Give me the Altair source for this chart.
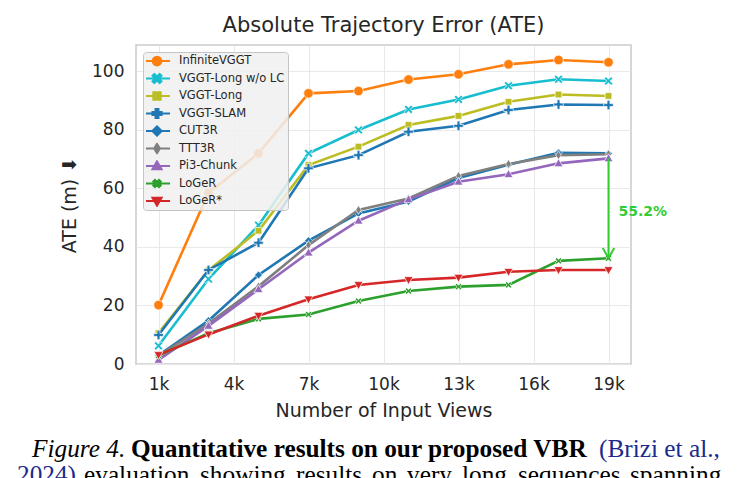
import math

import altair as alt
import pandas as pd

# ---------------------------------------------------------------- data
views_k = [1, 3, 5, 7, 9, 11, 13, 15, 17, 19]  # number of input views, thousands

infinite_vggt = [20.1, 58.4, 71.9, 92.4, 93.2, 97.1, 98.9, 102.3, 103.8, 103.0]
vggt_long_wo_lc = [6.2, 29.0, 47.4, 71.9, 79.9, 86.9, 90.3, 95.0, 97.2, 96.6]
vggt_long = [10.6, 32.0, 45.5, 67.9, 74.2, 81.6, 84.7, 89.5, 92.0, 91.5]
vggt_slam = [9.9, 32.1, 41.4, 66.8, 71.3, 79.3, 81.3, 86.7, 88.6, 88.4]
cut3r = [3.0, 14.8, 30.4, 42.1, 51.4, 55.5, 63.5, 68.0, 72.1, 71.9]
ttt3r = [2.8, 13.8, 26.5, 40.6, 52.6, 56.5, 64.2, 68.3, 71.3, 71.6]
pi3_chunk = [1.4, 13.0, 25.5, 38.0, 48.9, 56.2, 62.2, 64.8, 68.5, 70.2]
loger = [2.9, 10.5, 15.4, 16.9, 21.5, 24.9, 26.4, 27.0, 35.2, 36.1]
loger_star = [3.1, 10.1, 16.5, 22.1, 27.0, 28.7, 29.5, 31.5, 32.1, 32.1]

methods = ["InfiniteVGGT", "VGGT-Long w/o LC", "VGGT-Long", "VGGT-SLAM", "CUT3R",
           "TTT3R", "Pi3-Chunk", "LoGeR", "LoGeR*"]
series = [infinite_vggt, vggt_long_wo_lc, vggt_long, vggt_slam, cut3r,
          ttt3r, pi3_chunk, loger, loger_star]
colors = ["#ff7f0e", "#17becf", "#bcbd22", "#1f77b4", "#1f77b4",
          "#7f7f7f", "#9467bd", "#2ca02c", "#d62728"]
markers = ["circle", "x", "square", "plus", "diamond",
           "thin_diamond", "triangle_up", "x_small", "triangle_down"]
marker_sizes = [92, 80, 70, 92, 62, 80, 84, 44, 84]

x_ticks = [1, 4, 7, 10, 13, 16, 19]
y_ticks = [0, 20, 40, 60, 80, 100]

# ---------------------------------------------------------------- marker geometry
def rot(pts, deg):
    a = math.radians(deg)
    c, s = math.cos(a), math.sin(a)
    return [(x * c - y * s, x * s + y * c) for x, y in pts]


def plus_pts(w, r=1.0):
    return [(-w, -r), (w, -r), (w, -w), (r, -w), (r, w), (w, w), (w, r), (-w, r),
            (-w, w), (-r, w), (-r, -w), (-w, -w)]


def poly(pts, k=1.0):
    return "M" + "L".join(f"{x * k:.3f},{y * k:.3f}" for x, y in pts) + "Z"


def circle(r):
    return (f"M{-r:.3f},0A{r:.3f},{r:.3f} 0 1,0 {r:.3f},0"
            f"A{r:.3f},{r:.3f} 0 1,0 {-r:.3f},0Z")


marker_pts = {
    "square": [(-0.8, -0.8), (0.8, -0.8), (0.8, 0.8), (-0.8, 0.8)],
    "plus": plus_pts(0.3),
    "x": rot(plus_pts(0.27, 1.1), 45),
    "x_small": rot(plus_pts(0.3, 1.1), 45),
    "diamond": [(0, -1), (1, 0), (0, 1), (-1, 0)],
    "thin_diamond": [(0, -1), (0.62, 0), (0, 1), (-0.62, 0)],
    "triangle_up": [(0, -1), (0.98, 0.72), (-0.98, 0.72)],
    "triangle_down": [(0, 1), (0.98, -0.72), (-0.98, -0.72)],
}


def marker_path(name, k=1.0):
    if name == "circle":
        return circle(k)
    return poly(marker_pts[name], k)


# legend glyph: a short line segment with the marker on top
LEG_HALF = 2.9
legend_scale = {"circle": 0.95, "x_small": 0.8}
legend_paths = [f"M{-LEG_HALF},0H{LEG_HALF}" + marker_path(m, legend_scale.get(m, 1.0))
                for m in markers]

# ---------------------------------------------------------------- scales / axes
FONT = "DejaVu Sans"
TXT = "#262626"
x_scale = alt.Scale(domain=[0.1, 19.9], nice=False, zero=False)
y_scale = alt.Scale(domain=[0, 108.9], nice=False, zero=False)
x_axis = alt.Axis(title="Number of Input Views", values=x_ticks,
                  labelExpr="datum.value + 'k'", ticks=False, domain=False,
                  labelPadding=12, titlePadding=9, labelFlush=False)
y_axis = alt.Axis(title="ATE (m) \u2b07", values=y_ticks, ticks=False, domain=False,
                  labelPadding=12, titlePadding=12)

X = lambda: alt.X("views:Q", scale=x_scale, axis=x_axis)
Y = lambda: alt.Y("ate:Q", scale=y_scale, axis=y_axis)

layers = []
for name, vals, col, mk, sz in zip(methods, series, colors, markers, marker_sizes):
    df = pd.DataFrame({"views": views_k, "ate": vals, "method": name})
    base = alt.Chart(df)
    layers.append(base.mark_line(color=col, strokeWidth=2.6).encode(x=X(), y=Y()))
    layers.append(
        base.mark_point(shape=marker_path(mk), filled=True, fill=col, stroke="white",
                        strokeWidth=0.7, size=sz, opacity=1).encode(x=X(), y=Y())
    )

# ---------------------------------------------------------------- legend carrier
legend_df = pd.DataFrame({"method": methods})
legend_props = dict(
    orient="none", legendX=7, legendY=7, title=None,
    symbolSize=81, symbolStrokeWidth=2.2, symbolOpacity=1,
    symbolOffset=5, labelOffset=16, rowPadding=5.5, clipHeight=12,
    labelFont=FONT, labelFontSize=11.5, labelColor=TXT,
    padding=3, fillColor="rgba(240,240,240,0.85)", strokeColor="#c4c4c4",
    cornerRadius=3,
)
legend_layer = (
    alt.Chart(legend_df)
    .transform_filter("false")
    .mark_point(filled=True, opacity=1)
    .encode(
        fill=alt.Fill("method:N", scale=alt.Scale(domain=methods, range=colors),
                      legend=alt.Legend(**legend_props)),
        stroke=alt.Stroke("method:N", scale=alt.Scale(domain=methods, range=colors),
                          legend=alt.Legend(**legend_props)),
        shape=alt.Shape("method:N", scale=alt.Scale(domain=methods, range=legend_paths),
                        legend=alt.Legend(**legend_props)),
    )
)

# ---------------------------------------------------------------- improvement arrow
GREEN = "#32cd32"
gain = (ttt3r[-1] - loger_star[-1]) / ttt3r[-1] * 100
arrow_df = pd.DataFrame({"views": [views_k[-1]], "top": [pi3_chunk[-1]],
                         "ate": [loger[-1]],
                         "mid": [(pi3_chunk[-1] + loger[-1]) / 2],
                         "label": [f"{gain:.1f}%"]})
arrow_rule = alt.Chart(arrow_df).mark_rule(color=GREEN, strokeWidth=2).encode(
    x=X(), y=alt.Y("top:Q", scale=y_scale, axis=y_axis), y2="ate:Q")
arrow_head = alt.Chart(arrow_df).mark_point(
    shape="M-1,-1.8L0,0L1,-1.8", filled=False, stroke=GREEN, strokeWidth=2,
    size=130, opacity=1).encode(x=X(), y=Y())
arrow_text = alt.Chart(arrow_df).mark_text(
    align="left", baseline="middle", dx=10, dy=4, font=FONT, fontSize=14,
    fontWeight="bold", color=GREEN).encode(
    x=X(), y=alt.Y("mid:Q", scale=y_scale, axis=y_axis), text="label:N")

# ---------------------------------------------------------------- caption below the figure
LEFT, TOP = 136, 45
SERIF = "Liberation Serif"
BLUE = "#1b2a8c"
caption = [
    ("Figure 4.", 32, 457, "italic", "normal", "#000000"),
    ("Quantitative results on our proposed VBR", 131, 457, "normal", "bold", "#000000"),
    ("(Brizi et al.,", 599, 457, "normal", "normal", BLUE),
    ("2024)", 17, 483, "normal", "normal", BLUE),
    ("evaluation", 84, 483, "normal", "normal", "#000000"),
    ("showing", 200, 483, "normal", "normal", "#000000"),
    ("results", 296, 483, "normal", "normal", "#000000"),
    ("on", 372, 483, "normal", "normal", "#000000"),
    ("very", 407, 483, "normal", "normal", "#000000"),
    ("long", 462, 483, "normal", "normal", "#000000"),
    ("sequences", 518, 483, "normal", "normal", "#000000"),
    ("spanning", 630, 483, "normal", "normal", "#000000"),
]
caption_layers = [
    alt.Chart(pd.DataFrame({"seg": [t]})).mark_text(
        align="left", baseline="alphabetic", font=SERIF, fontSize=25.3,
        fontStyle=style, fontWeight=weight, color=col,
    ).encode(x=alt.value(px - LEFT), y=alt.value(py - TOP), text="seg:N")
    for t, px, py, style, weight, col in caption
]

chart = (
    alt.layer(*layers, arrow_rule, arrow_head, arrow_text, legend_layer, *caption_layers)
    .properties(
        width=495, height=319,
        autosize=alt.AutoSizeParams(type="none"),
        padding={"left": LEFT, "top": TOP, "right": 738 - LEFT - 495,
                 "bottom": 478 - TOP - 319},
        background="white",
        title=alt.TitleParams("Absolute Trajectory Error (ATE)", font=FONT,
                              fontSize=21, fontWeight="normal", color=TXT,
                              anchor="middle", offset=9),
    )
    .configure_view(stroke="#cccccc", strokeWidth=1.6)
    .configure_axis(labelFont=FONT, labelFontSize=17, labelColor=TXT,
                    titleFont=FONT, titleFontSize=19, titleFontWeight="normal",
                    titleColor=TXT, gridColor="#e6e6e6", gridWidth=0.9)
)

chart.save("out.html", embed_options={"renderer": "svg", "actions": False})
